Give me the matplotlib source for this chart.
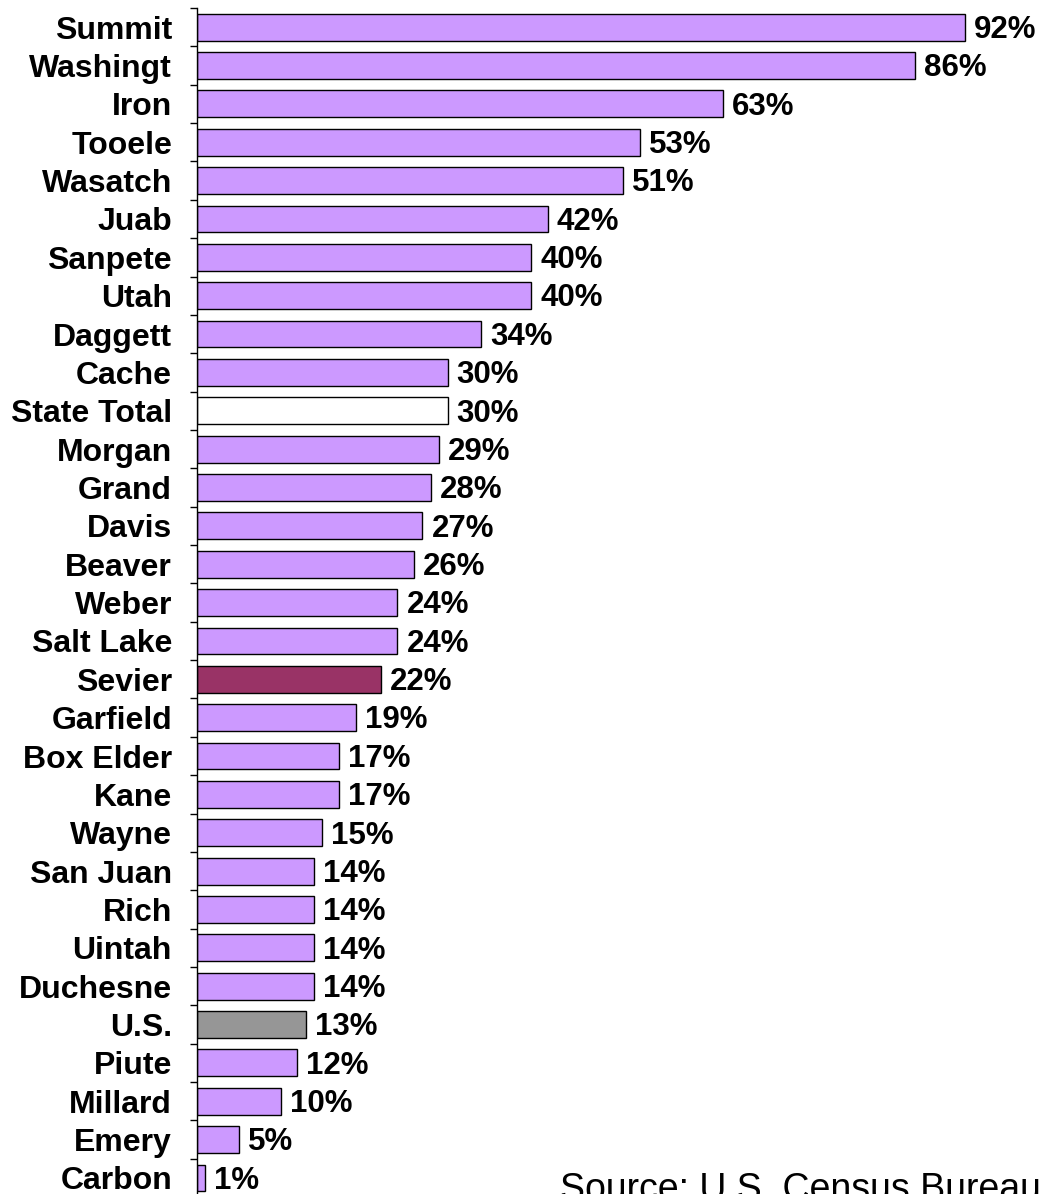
import matplotlib.pyplot as plt
import numpy as np

counties = ["Summit", "Washingt", "Iron", "Tooele", "Wasatch", "Juab", "Sanpete",
            "Utah", "Daggett", "Cache", "State Total", "Morgan", "Grand", "Davis",
            "Beaver", "Weber", "Salt Lake", "Sevier", "Garfield", "Box Elder",
            "Kane", "Wayne", "San Juan", "Rich", "Uintah", "Duchesne", "U.S.",
            "Piute", "Millard", "Emery", "Carbon"]
growth = [92, 86, 63, 53, 51, 42, 40, 40, 34, 30, 30, 29, 28, 27, 26, 24, 24,
          22, 19, 17, 17, 15, 14, 14, 14, 14, 13, 12, 10, 5, 1]
special = {"State Total": "white", "Sevier": "#993366", "U.S.": "#969696"}
colors = [special.get(c, "#CC99FF") for c in counties]

W, H = 1041, 1194
fig = plt.figure(figsize=(W / 100, H / 100), dpi=100)
top_px = 8
step = 38.36
bottom_px = top_px + step * len(counties)
ax = fig.add_axes([197 / W, (H - bottom_px) / H, 835 / W, (bottom_px - top_px) / H])

y = np.arange(len(counties))
ax.barh(y, growth, height=0.7, color=colors, edgecolor="black", linewidth=1.0)
ax.set_xlim(0, 100)
ax.set_ylim(len(counties) - 0.5, -0.5)

font = {"family": "Liberation Sans", "weight": "bold", "size": 22.5}
for yi, v in zip(y, growth):
    ax.annotate(f"{v}%", (v, yi), xytext=(6.5, -2), textcoords="offset points",
                ha="left", va="center", **font)

# county names, a little below the bar centre like the original
ax.set_yticks(y)
ax.set_yticklabels(counties, fontdict={**font, "size": 23})
ax.tick_params(axis="y", which="major", length=0, pad=18)
ax.set_yticks(np.arange(-0.5, len(counties), 1), minor=True)
ax.tick_params(axis="y", which="minor", length=5, width=1, direction="out")
ax.set_xticks([])
for s in ["top", "right", "bottom"]:
    ax.spines[s].set_visible(False)
ax.spines["left"].set_linewidth(1)

fig.text(560 / W, 1 - 1172 / H, "Source: U.S. Census Bureau", ha="left", va="top",
         family="Liberation Sans", fontsize=27)

fig.savefig("out.png", dpi=100)
